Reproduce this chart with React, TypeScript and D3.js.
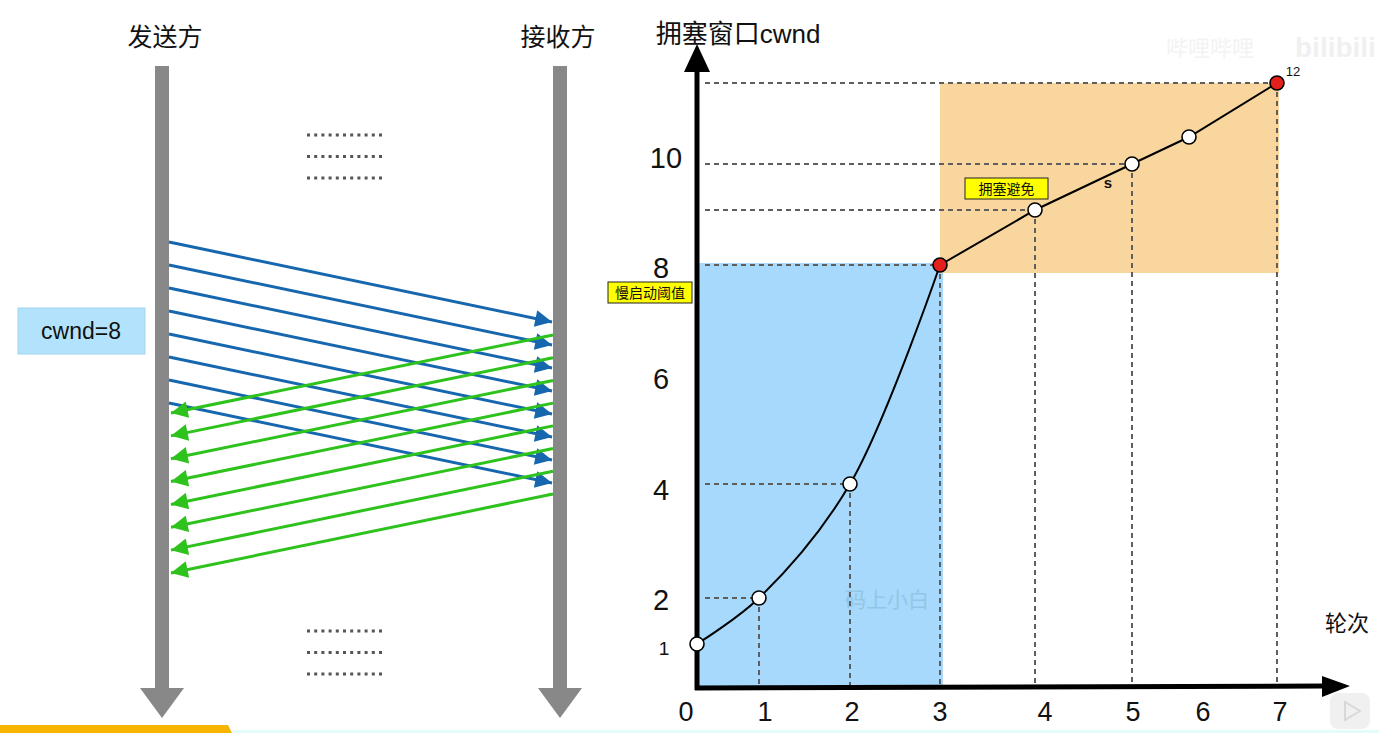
import React from "react";
import * as d3 from "d3";

// ---------- data ----------
const rounds = [0, 1, 2, 3, 4, 5, 6, 7];
const cwndValues = [1, 2, 4, 8, 9, 10, 11, 12];
const dashedRounds = [1, 2, 3, 4, 5, 7];
const hDashedRounds = [1, 2, 3, 4, 5, 7];
const redRounds = [3, 7];
const slowStartRounds = [0, 1, 2, 3];
const avoidRounds = [3, 4, 5, 6, 7];
const xTickLabels = ["0", "1", "2", "3", "4", "5", "6", "7"];
const yTickValues = [2, 4, 6, 8, 10];
const segmentIndex = [0, 1, 2, 3, 4, 5, 6, 7];
const dotRows = [0, 1, 2];
const dotCols = d3.range(11);

const W = 1379;
const H = 733;

// piecewise scales (hand-drawn chart is not uniform)
const x = d3.scaleLinear().domain(rounds).range([697, 759, 850, 940, 1035, 1132, 1189, 1277]);
const xLab = d3.scaleLinear().domain(rounds).range([686, 765, 852, 940, 1045, 1133, 1203, 1280]);
const y = d3
  .scaleLinear()
  .domain([0, 1, 2, 4, 8, 9, 10, 11, 12])
  .range([688, 644, 598, 484, 265, 210, 164, 137, 83]);
const yLab = d3.scaleLinear().domain([2, 4, 8, 10]).range([600, 490, 268, 158]);

// left sequence diagram scales
const blueStart = d3.scaleLinear().domain([0, 7]).range([242, 403]);
const blueEnd = d3.scaleLinear().domain([0, 7]).range([322, 483]);
const greenStart = d3.scaleLinear().domain([0, 7]).range([335, 494]);
const greenEnd = d3.scaleLinear().domain([0, 7]).range([413, 573]);

const CJK = '"Noto Sans CJK SC", "Noto Sans", sans-serif';
const LAT = '"Liberation Sans", Arial, sans-serif';

export default function App() {
  const slowLine = d3
    .line<number>()
    .x((r) => x(r))
    .y((r) => y(cwndValues[r]))
    .curve(d3.curveCatmullRom.alpha(0.5))(slowStartRounds)!;
  const avoidLine = d3
    .line<number>()
    .x((r) => x(r))
    .y((r) => y(cwndValues[r]))(avoidRounds)!;

  const blue = "#1767ae";
  const green = "#2dc21c";
  const gray = "#888888";
  const dash = "#5e5e5e";

  return (
    <svg width={W} height={H} style={{ position: "absolute", left: 0, top: 0, background: "#fff" }}>
      <defs>
        <marker id="ab" viewBox="0 0 10 10" refX="10" refY="5" markerWidth="6.2" markerHeight="5.6" orient="auto" markerUnits="strokeWidth">
          <path d="M0,0 L10,5 L0,10 z" fill={blue} />
        </marker>
        <marker id="ag" viewBox="0 0 10 10" refX="10" refY="5" markerWidth="6.2" markerHeight="5.6" orient="auto" markerUnits="strokeWidth">
          <path d="M0,0 L10,5 L0,10 z" fill={green} />
        </marker>
      </defs>

      {/* ---------- left: sequence diagram ---------- */}
      <text x={165} y={46} fontFamily={CJK} fontSize={25} textAnchor="middle" fill="#111">发送方</text>
      <text x={558} y={46} fontFamily={CJK} fontSize={25} textAnchor="middle" fill="#111">接收方</text>

      {[162, 560].map((cx) => (
        <g key={cx}>
          <rect x={cx - 7} y={66} width={14} height={624} fill={gray} />
          <path d={`M${cx - 22},688 L${cx + 22},688 L${cx},718 Z`} fill={gray} />
        </g>
      ))}

      {/* dotted ellipsis rows */}
      {[135, 631].map((y0) =>
        dotRows.map((r) =>
          dotCols.map((c) => (
            <rect key={`${y0}-${r}-${c}`} x={307 + c * 7.2} y={y0 + r * 21.5 - 1.5} width={3} height={3} fill="#555" />
          ))
        )
      )}

      <rect x={18} y={308} width={127} height={46} fill="#b3e3fc" stroke="#a0d4f0" strokeWidth={1} />
      <text x={81} y={339} fontFamily={LAT} fontSize={23} textAnchor="middle" fill="#111">cwnd=8</text>

      {segmentIndex.map((i) => (
        <line key={`b${i}`} x1={169} y1={blueStart(i)} x2={552} y2={blueEnd(i)} stroke={blue} strokeWidth={3} markerEnd="url(#ab)" />
      ))}
      {segmentIndex.map((i) => (
        <line key={`g${i}`} x1={553} y1={greenStart(i)} x2={171} y2={greenEnd(i)} stroke={green} strokeWidth={3} markerEnd="url(#ag)" />
      ))}

      {/* bottom bar (video UI) */}
      <path d="M0,725 L228,725 L232,733 L0,733 Z" fill="#f7b500" />
      <rect x={232} y={730} width={W - 232} height={3} fill="#e6fbfb" />

      {/* ---------- right: cwnd chart ---------- */}
      <rect x={x(0)} y={y(8) - 2} width={x(3) - x(0) + 3} height={y(0) - y(8) + 2} fill="#a6d9fb" />
      <rect x={x(3)} y={y(12)} width={x(7) - x(3) + 2} height={y(8) - y(12) + 8} fill="#fad69f" />

      <text x={887} y={607} fontFamily={CJK} fontSize={21} textAnchor="middle" fill="#92c6e6">码上小白</text>

      {/* dashed guides */}
      {hDashedRounds.map((r) => (
        <line key={`h${r}`} x1={705} y1={y(cwndValues[r])} x2={x(r)} y2={y(cwndValues[r])} stroke={dash} strokeWidth={2} strokeDasharray="5,4" />
      ))}
      {dashedRounds.map((r) => (
        <line key={`v${r}`} x1={x(r)} y1={y(cwndValues[r])} x2={x(r)} y2={686} stroke={dash} strokeWidth={2} strokeDasharray="5,4" />
      ))}

      {/* axes */}
      <line x1={697} y1={690} x2={697} y2={66} stroke="#000" strokeWidth={5} />
      <path d="M684,72 L710,72 L697,44 Z" fill="#000" />
      <line x1={695} y1={688} x2={1325} y2={686} stroke="#000" strokeWidth={5} />
      <path d="M1322,676 L1322,697 L1350,686 Z" fill="#000" />

      {/* curve */}
      <path d={slowLine} fill="none" stroke="#000" strokeWidth={2} />
      <path d={avoidLine} fill="none" stroke="#000" strokeWidth={2} />

      {rounds.map((r) => (
        <circle
          key={`p${r}`}
          cx={x(r)}
          cy={y(cwndValues[r])}
          r={7}
          fill={redRounds.includes(r) ? "#e3201b" : "#fff"}
          stroke="#000"
          strokeWidth={1.6}
        />
      ))}

      {/* tick labels */}
      {rounds.map((r) => (
        <text key={`xl${r}`} x={xLab(r)} y={721} fontFamily={LAT} fontSize={27} textAnchor="middle" fill="#111">{xTickLabels[r]}</text>
      ))}
      {yTickValues.map((v) => (
        <text key={`yl${v}`} x={v >= 10 ? 666 : 661} y={yLab(v) + 10} fontFamily={LAT} fontSize={29} textAnchor="middle" fill="#111">{v}</text>
      ))}
      <text x={664} y={655} fontFamily={LAT} fontSize={19} textAnchor="middle" fill="#111">1</text>

      <text x={738} y={43} fontFamily={CJK} fontSize={26} textAnchor="middle" fill="#111">
        拥塞窗口<tspan fontFamily={LAT} fontSize={26}>cwnd</tspan>
      </text>
      <text x={1347} y={631} fontFamily={CJK} fontSize={22} textAnchor="middle" fill="#111">轮次</text>

      {/* annotations */}
      <rect x={608} y={282} width={84} height={21} fill="#ffff00" stroke="#222" strokeWidth={1} />
      <text x={650} y={298} fontFamily={CJK} fontSize={14} textAnchor="middle" fill="#111">慢启动阈值</text>
      <rect x={965} y={178} width={83} height={21} fill="#ffff00" stroke="#222" strokeWidth={1} />
      <text x={1006.5} y={194} fontFamily={CJK} fontSize={14} textAnchor="middle" fill="#111">拥塞避免</text>
      <text x={1108} y={188} fontFamily={LAT} fontSize={15} fontWeight="bold" textAnchor="middle" fill="#111">s</text>
      <text x={1293} y={76} fontFamily={LAT} fontSize={13} textAnchor="middle" fill="#111">12</text>

      {/* faint watermarks */}
      <text x={1210} y={56} fontFamily={CJK} fontSize={22} textAnchor="middle" fill="#f3f3f3">哔哩哔哩</text>
      <text x={1295} y={57} fontFamily={LAT} fontSize={28} fontWeight="bold" fill="#f0f0f0">bilibili</text>
      <rect x={1330} y={693} width={40} height={36} rx={8} fill="#f0f0f0" />
      <path d="M1345,702 L1345,720 L1360,711 Z" fill="none" stroke="#d8d8d8" strokeWidth={2} />
    </svg>
  );
}
